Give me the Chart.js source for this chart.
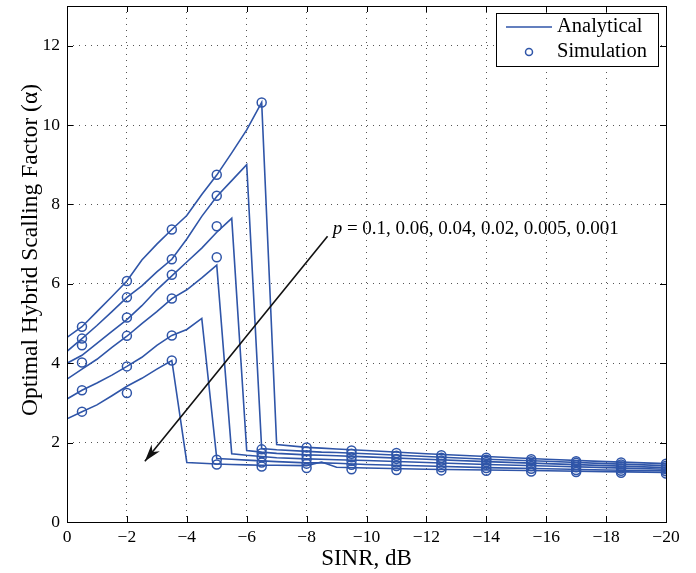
<!DOCTYPE html>
<html>
<head>
<meta charset="utf-8">
<script src="https://cdn.jsdelivr.net/npm/chart.js@4/dist/chart.umd.min.js"></script>
<style>
  html, body { margin: 0; padding: 0; background: #fff; }
  canvas { display: block; }
</style>
</head>
<body>
<canvas id="alphaChart" width="696" height="573"></canvas>
<script>
// SINR grid of the analytical curves (dB)
const analyticX = [0, -0.5, -1, -1.5, -2, -2.5, -3, -3.5, -4, -4.5, -5, -5.5, -6, -6.5, -7, -8, -8.5, -9, -10, -12, -14, -16, -18, -20];
// analytical alpha, one array per p
const anaP0100 = [4.65, 4.92, 5.3, 5.68, 6.07, 6.6, 7.0, 7.37, 7.72, 8.25, 8.74, 9.3, 9.88, 10.57, 1.95, 1.88, 1.86, 1.84, 1.8, 1.72, 1.65, 1.58, 1.52, 1.47];
const anaP0060 = [4.3, 4.62, 4.95, 5.3, 5.66, 5.95, 6.3, 6.62, 7.13, 7.7, 8.2, 8.6, 9.0, 1.85, 1.82, 1.78, 1.76, 1.75, 1.72, 1.65, 1.58, 1.53, 1.47, 1.42];
const anaP0040 = [4.0, 4.2, 4.5, 4.8, 5.1, 5.45, 5.85, 6.2, 6.55, 6.9, 7.3, 7.65, 1.8, 1.76, 1.73, 1.69, 1.68, 1.67, 1.64, 1.58, 1.52, 1.47, 1.42, 1.37];
const anaP0020 = [3.6, 3.85, 4.1, 4.4, 4.68, 5.0, 5.3, 5.63, 5.85, 6.15, 6.47, 1.72, 1.68, 1.65, 1.62, 1.59, 1.58, 1.57, 1.55, 1.5, 1.45, 1.41, 1.37, 1.33];
const anaP0005 = [3.1, 3.32, 3.5, 3.7, 3.92, 4.15, 4.45, 4.7, 4.85, 5.13, 1.6, 1.58, 1.56, 1.54, 1.52, 1.49, 1.49, 1.48, 1.45, 1.41, 1.37, 1.34, 1.31, 1.29];
const anaP0001 = [2.6, 2.78, 2.95, 3.18, 3.42, 3.62, 3.85, 4.07, 1.5, 1.48, 1.46, 1.45, 1.44, 1.43, 1.43, 1.42, 1.51, 1.38, 1.36, 1.33, 1.31, 1.29, 1.27, 1.25];

// simulation points
const simX = [-0.5, -2, -3.5, -5, -6.5, -8, -9.5, -11, -12.5, -14, -15.5, -17, -18.5, -20];
const simP0100 = [4.92, 6.07, 7.37, 8.75, 10.57, 1.88, 1.8, 1.74, 1.68, 1.62, 1.58, 1.53, 1.5, 1.47];
const simP0060 = [4.62, 5.66, 6.62, 8.22, 1.83, 1.78, 1.72, 1.67, 1.62, 1.57, 1.53, 1.49, 1.45, 1.42];
const simP0040 = [4.45, 5.15, 6.23, 7.45, 1.73, 1.68, 1.63, 1.59, 1.55, 1.51, 1.47, 1.43, 1.4, 1.37];
const simP0020 = [4.02, 4.69, 5.63, 6.67, 1.63, 1.58, 1.54, 1.5, 1.47, 1.44, 1.41, 1.38, 1.35, 1.33];
const simP0005 = [3.32, 3.92, 4.7, 1.57, 1.5, 1.47, 1.44, 1.41, 1.38, 1.36, 1.34, 1.31, 1.29, 1.28];
const simP0001 = [2.78, 3.25, 4.07, 1.45, 1.4, 1.36, 1.33, 1.31, 1.3, 1.29, 1.27, 1.26, 1.24, 1.22];

const yTicks = [0, 2, 4, 6, 8, 10, 12];
const pLabel = '0.1, 0.06, 0.04, 0.02, 0.005, 0.001';

const BLUE = '#2f55a8';
const SERIF = '"Liberation Serif", "DejaVu Serif", serif';

const toPts = (xs, ys) => xs.map((x, i) => ({ x: x, y: ys[i] }));

const anaSets = [anaP0100, anaP0060, anaP0040, anaP0020, anaP0005, anaP0001].map(ys => ({
  label: 'Analytical',
  data: toPts(analyticX, ys),
  borderColor: BLUE,
  borderWidth: 1.6,
  pointRadius: 0,
  fill: false,
  tension: 0
}));
const simSets = [simP0100, simP0060, simP0040, simP0020, simP0005, simP0001].map(ys => ({
  label: 'Simulation',
  data: toPts(simX, ys),
  showLine: false,
  borderColor: BLUE,
  backgroundColor: 'rgba(0,0,0,0)',
  pointRadius: 4.5,
  pointBorderWidth: 1.5,
  pointBackgroundColor: 'rgba(0,0,0,0)'
}));

// box, inside ticks, titles, legend and the p annotation
const decor = {
  id: 'decor',
  afterDraw(chart) {
    const { ctx, chartArea: a, scales: { x, y } } = chart;
    ctx.save();
    ctx.strokeStyle = '#000';
    ctx.lineWidth = 1;
    ctx.strokeRect(Math.round(a.left) + 0.5, Math.round(a.top) + 0.5, Math.round(a.width), Math.round(a.height));
    const tl = 6;
    ctx.beginPath();
    x.ticks.forEach(t => {
      const px = Math.round(x.getPixelForValue(t.value)) + 0.5;
      ctx.moveTo(px, a.bottom); ctx.lineTo(px, a.bottom - tl);
      ctx.moveTo(px, a.top); ctx.lineTo(px, a.top + tl);
    });
    y.ticks.forEach(t => {
      const py = Math.round(y.getPixelForValue(t.value)) + 0.5;
      ctx.moveTo(a.left, py); ctx.lineTo(a.left + tl, py);
      ctx.moveTo(a.right, py); ctx.lineTo(a.right - tl, py);
    });
    ctx.stroke();

    // axis titles
    ctx.fillStyle = '#000';
    ctx.font = '23px ' + SERIF;
    ctx.textAlign = 'center';
    ctx.textBaseline = 'alphabetic';
    ctx.fillText('SINR, dB', (a.left + a.right) / 2, 565);
    ctx.save();
    ctx.translate(37, 250);
    ctx.rotate(-Math.PI / 2);
    ctx.font = '23.5px ' + SERIF;
    ctx.fillText('Optimal Hybrid Scalling Factor (\u03b1)', 0, 0);
    ctx.restore();

    // arrow, placed in data coordinates
    const x0 = x.getPixelForValue(-8.7), y0 = y.getPixelForValue(7.2);
    const x1 = x.getPixelForValue(-2.6), y1 = y.getPixelForValue(1.53);
    ctx.strokeStyle = '#111';
    ctx.lineWidth = 1.6;
    ctx.beginPath(); ctx.moveTo(x0, y0); ctx.lineTo(x1, y1); ctx.stroke();
    const ang = Math.atan2(y1 - y0, x1 - x0);
    ctx.fillStyle = '#111';
    ctx.beginPath();
    ctx.moveTo(x1, y1);
    ctx.lineTo(x1 - 18 * Math.cos(ang - 0.3), y1 - 18 * Math.sin(ang - 0.3));
    ctx.lineTo(x1 - 12 * Math.cos(ang), y1 - 12 * Math.sin(ang));
    ctx.lineTo(x1 - 18 * Math.cos(ang + 0.3), y1 - 18 * Math.sin(ang + 0.3));
    ctx.closePath();
    ctx.fill();

    // p label
    const tx = x.getPixelForValue(-8.87), ty = y.getPixelForValue(7.37);
    ctx.textAlign = 'left';
    ctx.textBaseline = 'middle';
    ctx.font = 'italic 19px ' + SERIF;
    ctx.fillStyle = '#000';
    ctx.fillText('p', tx, ty);
    const cx = tx + ctx.measureText('p').width;
    ctx.font = '19px ' + SERIF;
    ctx.fillText(' = ' + pLabel, cx, ty);

    // legend box
    const lx = 496, ly = 13, lw = 162, lh = 53;
    ctx.fillStyle = '#fff';
    ctx.fillRect(lx, ly, lw, lh);
    ctx.strokeStyle = '#000';
    ctx.lineWidth = 1;
    ctx.strokeRect(lx + 0.5, ly + 0.5, lw, lh);
    ctx.strokeStyle = BLUE;
    ctx.lineWidth = 1.6;
    ctx.beginPath(); ctx.moveTo(506, 27); ctx.lineTo(552, 27); ctx.stroke();
    ctx.lineWidth = 1.5;
    ctx.beginPath(); ctx.arc(529, 52, 3.5, 0, Math.PI * 2); ctx.stroke();
    ctx.fillStyle = '#000';
    ctx.font = '20.5px ' + SERIF;
    ctx.fillText('Analytical', 557, 27);
    ctx.fillText('Simulation', 557, 52);
    ctx.restore();
  }
};

const tickFont = { family: SERIF, size: 17.5 };

new Chart(document.getElementById('alphaChart').getContext('2d'), {
  type: 'line',
  data: { datasets: anaSets.concat(simSets) },
  options: {
    responsive: false,
    animation: false,
    layout: { padding: { left: 0, right: 30, top: 4, bottom: 0 } },
    plugins: { legend: { display: false }, tooltip: { enabled: false } },
    scales: {
      x: {
        type: 'linear',
        reverse: true,
        min: -20,
        max: 0,
        afterFit: s => { s.height = 51; s.paddingLeft = 0; },
        ticks: {
          stepSize: 2,
          color: '#000',
          font: tickFont,
          padding: 5,
          maxRotation: 0,
          callback: v => (v === 0 ? '0' : '\u2212' + Math.abs(v))
        },
        grid: { color: '#555', lineWidth: 1, drawTicks: false },
        border: { display: false, dash: [1, 5] }
      },
      y: {
        type: 'linear',
        min: 0,
        max: 13,
        afterFit: s => { s.width = 67; s.paddingTop = 0; s.paddingBottom = 0; },
        afterBuildTicks: s => { s.ticks = yTicks.map(v => ({ value: v })); },
        ticks: {
          color: '#000',
          font: tickFont,
          padding: 7
        },
        grid: { color: '#555', lineWidth: 1, drawTicks: false },
        border: { display: false, dash: [1, 5] }
      }
    }
  },
  plugins: [decor]
});
</script>
</body>
</html>
